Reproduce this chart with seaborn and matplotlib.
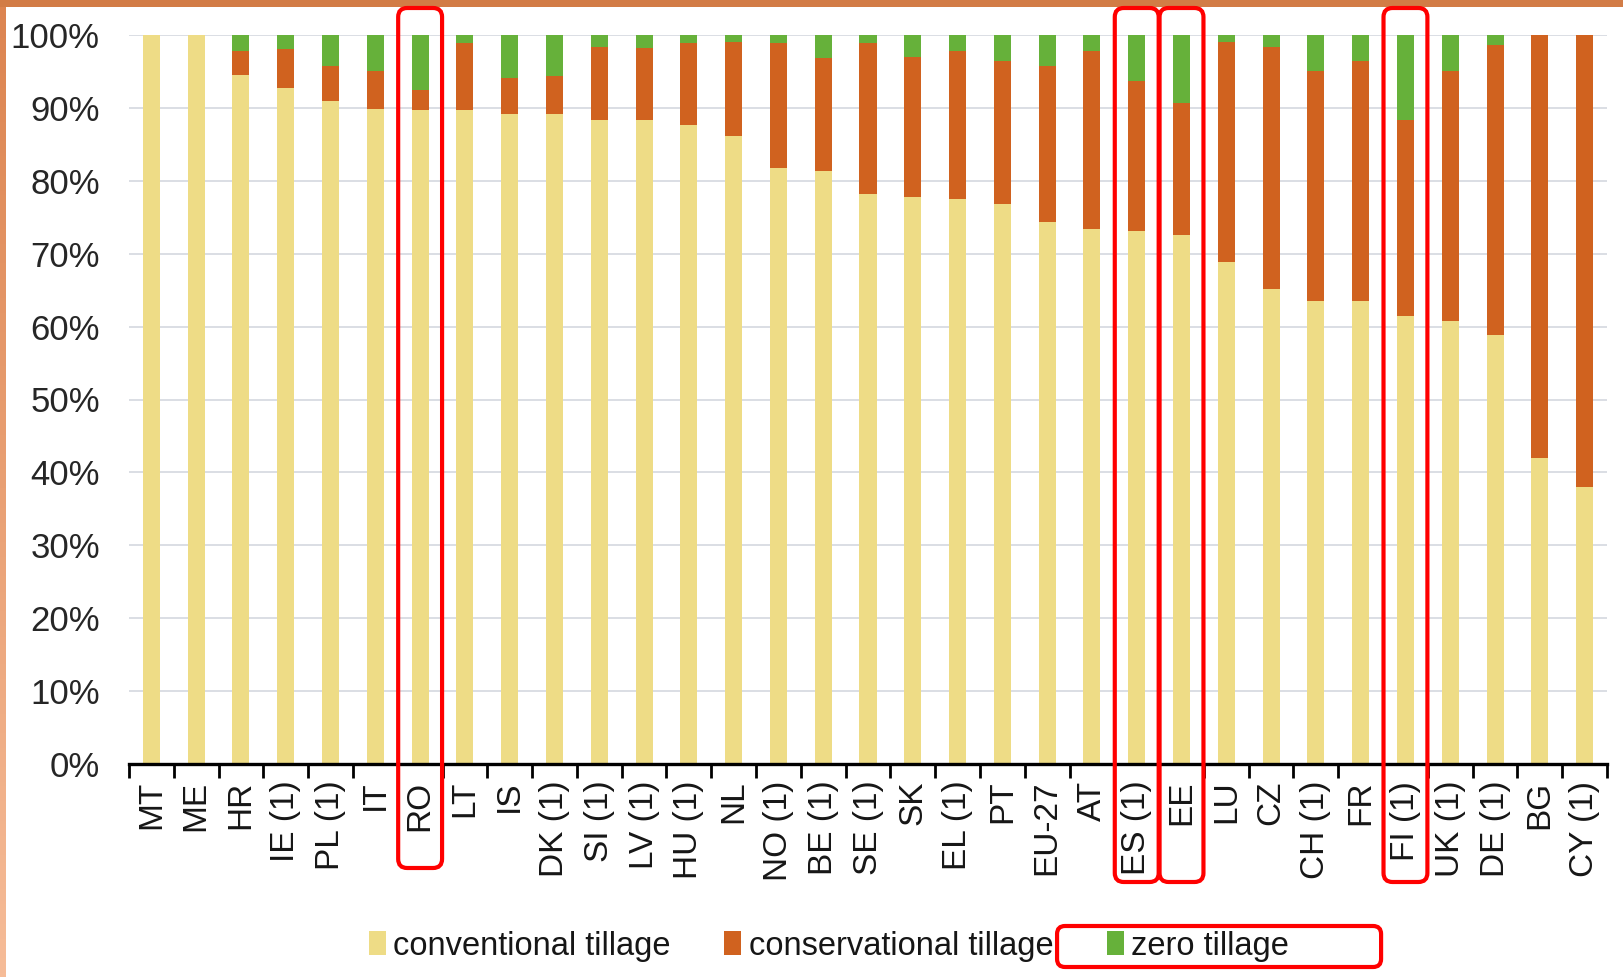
import numpy as np
import pandas as pd
import matplotlib
matplotlib.use("Agg")
import matplotlib.pyplot as plt
import seaborn as sns
from matplotlib.patches import FancyBboxPatch, Rectangle, Patch
from matplotlib.colors import LinearSegmentedColormap

# Share of arable area by tillage practice (%)
countries = ["MT", "ME", "HR", "IE (1)", "PL (1)", "IT", "RO", "LT", "IS", "DK (1)",
             "SI (1)", "LV (1)", "HU (1)", "NL", "NO (1)", "BE (1)", "SE (1)", "SK",
             "EL (1)", "PT", "EU-27", "AT", "ES (1)", "EE", "LU", "CZ", "CH (1)", "FR",
             "FI (1)", "UK (1)", "DE (1)", "BG", "CY (1)"]
conventional = [100.0, 100.0, 94.5, 92.7, 90.9, 89.8, 89.7, 89.7, 89.1, 89.1,
                88.3, 88.3, 87.6, 86.1, 81.7, 81.3, 78.2, 77.8, 77.5, 76.8,
                74.4, 73.4, 73.1, 72.6, 68.9, 65.1, 63.5, 63.5, 61.4, 60.8,
                58.9, 42.0, 38.0]
conservational = [0.0, 0.0, 3.3, 5.4, 4.9, 5.2, 2.8, 9.2, 5.0, 5.3,
                  10.1, 9.9, 11.3, 13.0, 17.2, 15.5, 20.7, 19.2, 20.3, 19.6,
                  21.4, 24.4, 20.6, 18.1, 30.1, 33.2, 31.5, 32.9, 26.9, 34.2,
                  39.7, 58.0, 62.0]
zero = [0.0, 0.0, 2.2, 1.9, 4.2, 5.0, 7.5, 1.1, 5.9, 5.6,
        1.6, 1.8, 1.1, 0.9, 1.1, 3.2, 1.1, 3.0, 2.2, 3.6,
        4.2, 2.2, 6.3, 9.3, 1.0, 1.7, 5.0, 3.6, 11.7, 5.0,
        1.4, 0.0, 0.0]
series_labels = ["conventional tillage", "conservational tillage", "zero tillage"]
highlighted = ["RO", "ES (1)", "EE", "FI (1)"]

YELLOW = "#EEDC86"
ORANGE = "#D0621F"
GREEN = "#66B13A"
GRID = "#D8DBE2"
RED = "#FF0000"

sns.set_theme(style="white")
plt.rcParams["font.family"] = ["Liberation Sans", "DejaVu Sans"]

W, H = 1623, 977
fig = plt.figure(figsize=(W / 100, H / 100), dpi=100)
fig.patch.set_facecolor("white")
ax = fig.add_axes([129 / W, 1 - 764 / H, (1607 - 129) / W, (764 - 35) / H])

df = pd.DataFrame({"country": countries,
                   "conventional": conventional,
                   "conservational": conservational,
                   "zero": zero})
df["upto_cons"] = df["conventional"] + df["conservational"]
df["upto_zero"] = df["upto_cons"] + df["zero"]

# Stacked bars drawn as overlapping cumulative totals
bar_kw = dict(data=df, x="country", width=0.38, saturation=1, errorbar=None,
              linewidth=0, ax=ax, order=countries)
sns.barplot(y="upto_zero", color=GREEN, **bar_kw)
sns.barplot(y="upto_cons", color=ORANGE, **bar_kw)
sns.barplot(y="conventional", color=YELLOW, **bar_kw)

ax.set_xlim(-0.5, len(countries) - 0.5)
ax.set_ylim(0, 100)
ax.set_axisbelow(True)
ax.yaxis.grid(True, color=GRID, lw=1.3)
ax.xaxis.grid(False)
ax.set_xlabel("")
ax.set_ylabel("")

yt = np.arange(0, 101, 10)
ax.set_yticks(yt)
ax.set_yticklabels([f"{v}%" for v in yt])
ax.tick_params(axis="y", length=0, pad=21, labelsize=25, labelcolor="#262626")

ax.set_xticks(np.arange(len(countries)))
ax.set_xticklabels(countries, rotation=90)
ax.set_xticks(np.arange(-0.5, len(countries)), minor=True)
ax.tick_params(axis="x", which="major", length=0, pad=12, labelsize=24,
               labelcolor="#161616")
ax.tick_params(axis="x", which="minor", length=10, width=2, color="black",
               direction="out", bottom=True)

for side in ["top", "right", "left"]:
    ax.spines[side].set_visible(False)
ax.spines["bottom"].set_color("black")
ax.spines["bottom"].set_linewidth(2.4)

handles = [Patch(facecolor=c, edgecolor="none", label=l)
           for c, l in zip([YELLOW, ORANGE, GREEN], series_labels)]
leg = fig.legend(handles=handles, loc="center", bbox_to_anchor=(829 / W, 1 - 946 / H),
                 ncol=3, frameon=False, fontsize=23.5, handlelength=0.52,
                 handleheight=0.75, handletextpad=0.22, columnspacing=1.65)
for t in leg.get_texts():
    t.set_color("#161616")

# Overlay in pixel coordinates for the frame and highlight boxes
fig.canvas.draw()
renderer = fig.canvas.get_renderer()
ov = fig.add_axes([0, 0, 1, 1], zorder=10)
ov.patch.set_alpha(0)
ov.axis("off")

grad = np.linspace(0, 1, 256).reshape(-1, 1)
edge_cmap = LinearSegmentedColormap.from_list("edge", ["#DC8450", "#F6BC98"])
ov.imshow(grad, cmap=edge_cmap, extent=[0, 6, H, 0], aspect="auto", zorder=1)
ov.add_patch(Rectangle((0, 0), W, 7, facecolor="#D27C46", edgecolor="none", zorder=2))

label_bottom = {"RO": 868}
for name in highlighted:
    i = countries.index(name)
    x0 = ax.transData.transform((i - 0.49, 0))[0]
    x1 = ax.transData.transform((i + 0.49, 0))[0]
    y1 = label_bottom.get(name, 882)
    ov.add_patch(FancyBboxPatch((x0, 8), x1 - x0, y1 - 8,
                                boxstyle="round,pad=0,rounding_size=9",
                                facecolor="none", edgecolor=RED, lw=3, zorder=5))

tb = leg.get_texts()[2].get_window_extent(renderer)
hb = leg.legend_handles[2].get_window_extent(renderer)
bx0 = hb.x0 - 50
bx1 = tb.x1 + 92
ycen = H - (tb.y0 + tb.y1) / 2
ov.add_patch(FancyBboxPatch((bx0, ycen - 20), bx1 - bx0, 41,
                            boxstyle="round,pad=0,rounding_size=8",
                            facecolor="none", edgecolor=RED, lw=3, zorder=5))

ov.set_xlim(0, W)
ov.set_ylim(H, 0)

fig.savefig("out.png", dpi=100)
